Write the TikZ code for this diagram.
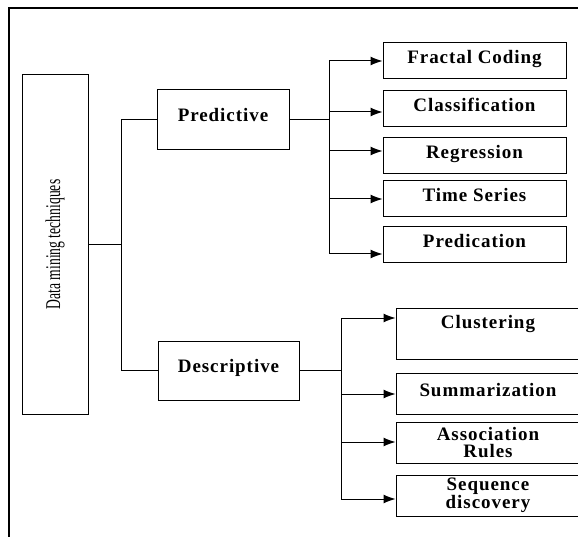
\documentclass[tikz,border=0pt]{standalone}
\usepackage{fontspec}
\setmainfont{Liberation Serif}
\newfontfamily\boxfont[LetterSpace=5]{Liberation Serif}
\usetikzlibrary{arrows.meta}

\tikzset{
  box/.style={draw,line width=1pt,inner sep=0pt,align=center,
    font=\boxfont\bfseries\fontsize{19}{17.5}\selectfont},
  pleaf/.style={box,minimum width=183pt,minimum height=36pt,text depth=8pt},
  dleaf/.style={box,minimum width=184pt,minimum height=41pt},
  arr/.style={-{Latex[length=12pt,width=9pt]},line width=1pt}
}

\begin{document}
\begin{tikzpicture}[x=1pt,y=-1pt,line width=1pt]
    \clip (0,0) rectangle (578,537);
    \draw[line width=1.4pt] (578,8) -| (9,537);
    \node[box,minimum width=66pt,minimum height=339pt,
      font=\fontsize{21}{21}\selectfont] (dm) at (55,244.5)
      {\rotatebox{90}{\scalebox{0.65}[1]{Data mining techniques}}};
    \node[box,minimum width=132pt,minimum height=60pt,text depth=10pt]
      (pred) at (223,120) {Predictive};
    \node[box,minimum width=141pt,minimum height=59pt,text depth=10pt]
      (desc) at (228.5,370.5) {Descriptive};
    % predictive leaves
    \node[pleaf] (fc) at (474.5,61) {Fractal Coding};
    \node[pleaf] (cl) at (474.5,108.5) {Classification};
    \node[pleaf] (rg) at (474.5,156) {Regression};
    \node[pleaf] (ts) at (474.5,199) {Time Series};
    \node[pleaf] (pd) at (474.5,245) {Predication};
    % descriptive leaves
    \node[dleaf,minimum height=51pt,text depth=23pt] (cu) at (488,333.5) {Clustering};
    \node[dleaf,text depth=8pt] (su) at (488,393.5) {Summarization};
    \node[dleaf] (as) at (488,442.5) {Association\\Rules};
    \node[dleaf] (sq) at (488,495.5) {Sequence\\discovery};
    % connectors
    \coordinate (ja) at (121,0);
    \coordinate (jp) at (329,0);
    \coordinate (jd) at (341,0);
    \draw (dm.east) -- (dm.east -| ja);
    \draw (pred.west) -- (pred.west -| ja) -- (desc.west -| ja) -- (desc.west);
    \draw (pred.east) -- (pred.east -| jp);
    \draw (jp |- 0,61) -- (jp |- 0,254);
    \foreach \b/\y in {fc/61,cl/112,rg/151,ts/199,pd/254}
      \draw[arr] (jp |- 0,\y) -- (\b.west |- 0,\y);
    \draw (desc.east) -- (desc.east -| jd);
    \draw (jd |- 0,318) -- (jd |- 0,499);
    \foreach \b/\y in {cu/318,su/394,as/442,sq/499}
      \draw[arr] (jd |- 0,\y) -- (\b.west |- 0,\y);
\end{tikzpicture}
\end{document}
